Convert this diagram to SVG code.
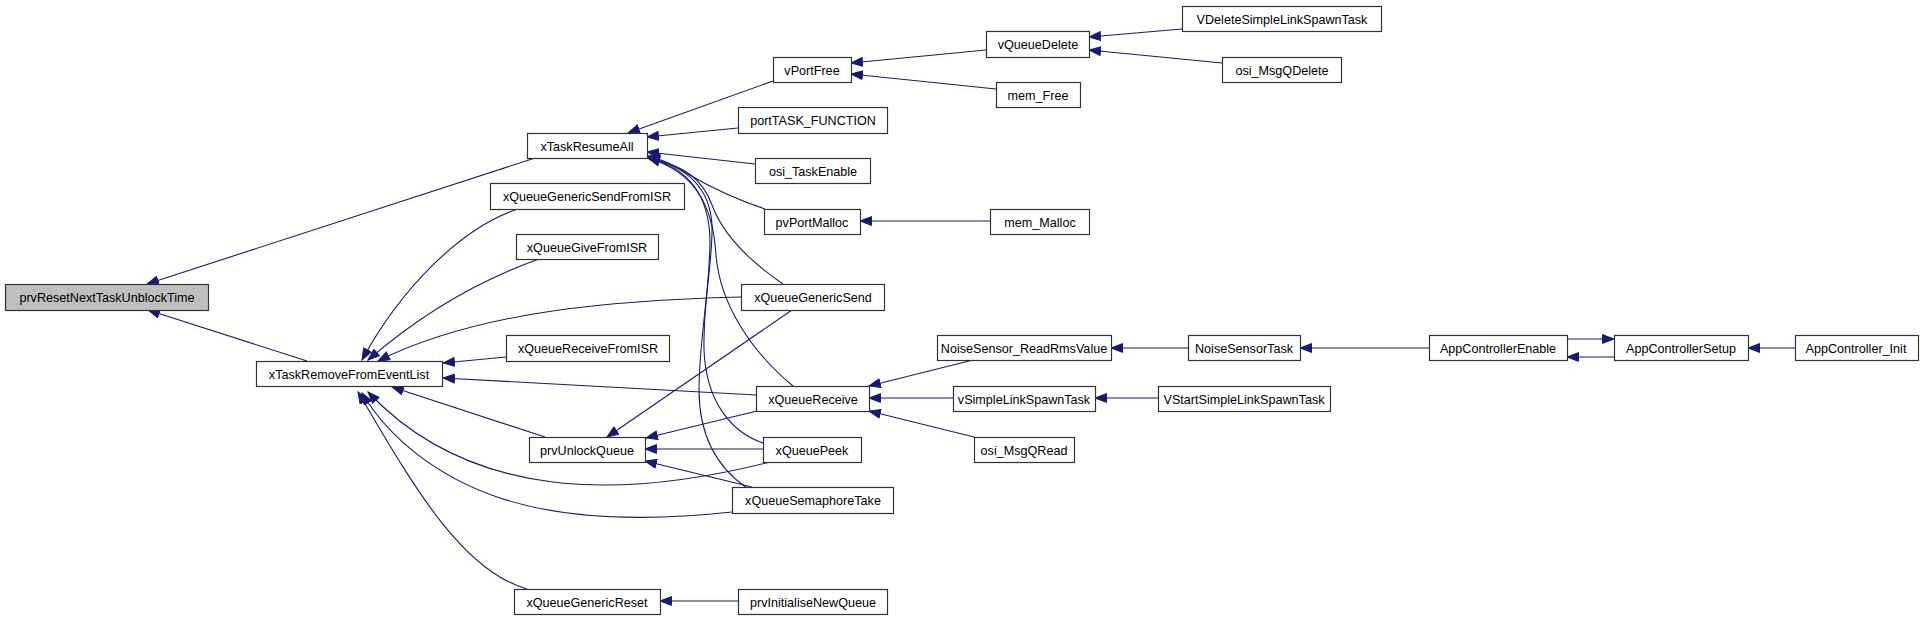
<svg xmlns="http://www.w3.org/2000/svg" width="1929" height="620" viewBox="0 0 1929 620">
<defs>
<style>
.n rect{fill:#fff;stroke:#333;stroke-width:1.2}
.n.h rect{fill:#bfbfbf}
.n text{font-family:"Liberation Sans",Arial,sans-serif;font-size:12.6px;fill:#000;text-anchor:middle}
.e path{fill:none;stroke:#191970;stroke-width:1.1;marker-end:url(#ah)}
</style>
<marker id="ah" markerUnits="userSpaceOnUse" viewBox="0 0 13 10" refX="12" refY="5" markerWidth="13" markerHeight="10" orient="auto">
<path d="M0.5,0.6 L12,5 L0.5,9.4 z" fill="#191970" stroke="#191970" stroke-width="1"/>
</marker>
</defs>
<rect width="1929" height="620" fill="#fff"/>
<g id="connectors" class="e">
<path d="M535,158 L147,284"/>
<path d="M307,361 L148,310"/>
<path d="M773,81 L628,133"/>
<path d="M738,128 L647,137"/>
<path d="M755,164 L647,152"/>
<path d="M765,209 C735,199 705,184 688,174 C676,167 665,160 648,156"/>
<path d="M783,284 C745,258 722,232 712,205 C703,180 685,165 648,158"/>
<path d="M793,386 C752,352 720,305 716,255 C713,205 695,172 648,158"/>
<path d="M763,443 C730,432 706,400 704,350 C703,300 713,262 712,225 C710,190 690,167 648,158"/>
<path d="M747,488 C715,466 699,432 699,390 C699,340 710,290 710,240 C709,196 690,168 648,158"/>
<path d="M518,209 C460,228 400,290 362,360"/>
<path d="M539,259 C480,280 420,315 368,360"/>
<path d="M741,297 C620,300 480,310 378,361"/>
<path d="M506,357 L443,363"/>
<path d="M756,395 L443,378"/>
<path d="M545,437 L392,387"/>
<path d="M770,462 C620,500 470,500 368,392"/>
<path d="M732,512 C640,522 560,518 500,498 C440,478 390,440 362,393"/>
<path d="M527,589 C460,570 410,480 358,392"/>
<path d="M792,310 L607,437"/>
<path d="M757,411 L646,438"/>
<path d="M763,449 L645,449"/>
<path d="M752,487 L645,461"/>
<path d="M738,601 L660,601"/>
<path d="M986,50 L851,63"/>
<path d="M996,89 L851,74"/>
<path d="M990,221 L860,221"/>
<path d="M1182,29 L1089,37"/>
<path d="M1222,63 L1089,50"/>
<path d="M973,360 L869,386"/>
<path d="M953,398 L869,398"/>
<path d="M974,437 L869,411"/>
<path d="M1188,348 L1111,348"/>
<path d="M1158,398 L1095,398"/>
<path d="M1429,348 L1300,348"/>
<path d="M1614,357 L1567,357"/>
<path d="M1567,339 L1614,339"/>
<path d="M1795,348 L1748,348"/>
</g>
<g id="n0" class="n h"><rect x="5.5" y="284.5" width="203" height="26"/><text x="107" y="302">prvResetNextTaskUnblockTime</text></g>
<g id="n1" class="n"><rect x="527.5" y="133.5" width="120" height="25"/><text x="587" y="150.5">xTaskResumeAll</text></g>
<g id="n2" class="n"><rect x="256.5" y="361.5" width="186" height="25"/><text x="349" y="378.5">xTaskRemoveFromEventList</text></g>
<g id="n3" class="n"><rect x="773.5" y="57.5" width="78" height="25"/><text x="812" y="74.5">vPortFree</text></g>
<g id="n4" class="n"><rect x="738.5" y="107.5" width="149" height="26"/><text x="813" y="125">portTASK_FUNCTION</text></g>
<g id="n5" class="n"><rect x="755.5" y="158.5" width="115" height="25"/><text x="813" y="175.5">osi_TaskEnable</text></g>
<g id="n6" class="n"><rect x="764.5" y="209.5" width="96" height="25"/><text x="812" y="226.5">pvPortMalloc</text></g>
<g id="n7" class="n"><rect x="490.5" y="183.5" width="194" height="26"/><text x="587" y="201">xQueueGenericSendFromISR</text></g>
<g id="n8" class="n"><rect x="516.5" y="234.5" width="142" height="25"/><text x="587" y="251.5">xQueueGiveFromISR</text></g>
<g id="n9" class="n"><rect x="741.5" y="284.5" width="143" height="26"/><text x="813" y="302">xQueueGenericSend</text></g>
<g id="n10" class="n"><rect x="506.5" y="335.5" width="163" height="26"/><text x="588" y="353">xQueueReceiveFromISR</text></g>
<g id="n11" class="n"><rect x="756.5" y="386.5" width="113" height="25"/><text x="813" y="403.5">xQueueReceive</text></g>
<g id="n12" class="n"><rect x="529.5" y="437.5" width="116" height="25"/><text x="587" y="454.5">prvUnlockQueue</text></g>
<g id="n13" class="n"><rect x="763.5" y="437.5" width="98" height="25"/><text x="812" y="454.5">xQueuePeek</text></g>
<g id="n14" class="n"><rect x="732.5" y="487.5" width="161" height="26"/><text x="813" y="505">xQueueSemaphoreTake</text></g>
<g id="n15" class="n"><rect x="514.5" y="589.5" width="146" height="25"/><text x="587" y="606.5">xQueueGenericReset</text></g>
<g id="n16" class="n"><rect x="738.5" y="589.5" width="149" height="25"/><text x="813" y="606.5">prvInitialiseNewQueue</text></g>
<g id="n17" class="n"><rect x="986.5" y="31.5" width="103" height="26"/><text x="1038" y="49">vQueueDelete</text></g>
<g id="n18" class="n"><rect x="1182.5" y="6.5" width="199" height="25"/><text x="1282" y="23.5">VDeleteSimpleLinkSpawnTask</text></g>
<g id="n19" class="n"><rect x="1222.5" y="57.5" width="119" height="25"/><text x="1282" y="74.5">osi_MsgQDelete</text></g>
<g id="n20" class="n"><rect x="996.5" y="82.5" width="84" height="25"/><text x="1038" y="99.5">mem_Free</text></g>
<g id="n21" class="n"><rect x="990.5" y="209.5" width="99" height="25"/><text x="1040" y="226.5">mem_Malloc</text></g>
<g id="n22" class="n"><rect x="937.5" y="335.5" width="174" height="25"/><text x="1024" y="352.5">NoiseSensor_ReadRmsValue</text></g>
<g id="n23" class="n"><rect x="1188.5" y="335.5" width="112" height="25"/><text x="1244" y="352.5">NoiseSensorTask</text></g>
<g id="n24" class="n"><rect x="953.5" y="386.5" width="142" height="25"/><text x="1024" y="403.5">vSimpleLinkSpawnTask</text></g>
<g id="n25" class="n"><rect x="1158.5" y="386.5" width="172" height="25"/><text x="1244" y="403.5">VStartSimpleLinkSpawnTask</text></g>
<g id="n26" class="n"><rect x="974.5" y="437.5" width="100" height="25"/><text x="1024" y="454.5">osi_MsgQRead</text></g>
<g id="n27" class="n"><rect x="1429.5" y="335.5" width="138" height="25"/><text x="1498" y="352.5">AppControllerEnable</text></g>
<g id="n28" class="n"><rect x="1614.5" y="335.5" width="134" height="25"/><text x="1681" y="352.5">AppControllerSetup</text></g>
<g id="n29" class="n"><rect x="1795.5" y="335.5" width="123" height="25"/><text x="1856" y="352.5">AppController_Init</text></g>
</svg>
